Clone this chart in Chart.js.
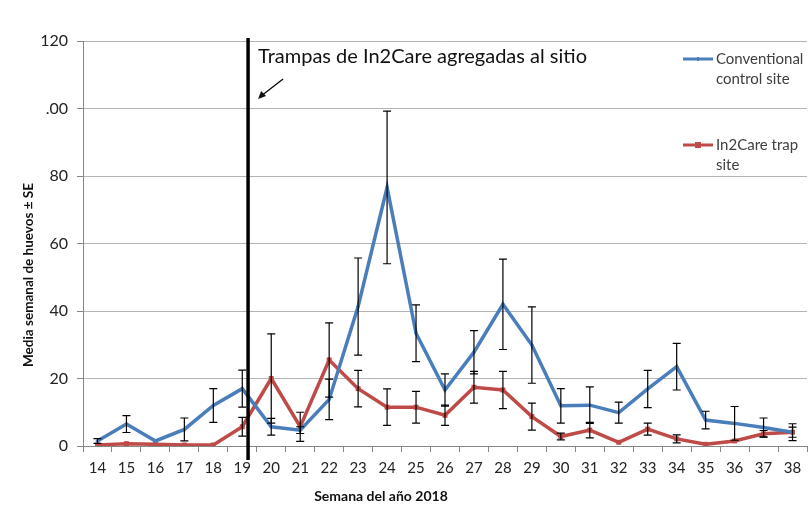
<!DOCTYPE html>
<html>
<head>
<meta charset="utf-8">
<script src="https://cdn.jsdelivr.net/npm/chart.js@4.4.1/dist/chart.umd.min.js"></script>
<style>
  body { margin: 0; background: #fff; }
  canvas { display: block; }
</style>
</head>
<body>
<canvas id="chart" width="811" height="512"></canvas>
<script>
const weeks = ['14','15','16','17','18','19','20','21','22','23','24','25','26','27','28','29','30','31','32','33','34','35','36','37','38'];

const conventional   = [1.5, 6.5, 1.5, 4.9, 12, 17, 5.7, 4.7, 13.8, 41.3, 76.6, 33.4, 16.6, 27.8, 42, 29.9, 11.9, 12.1, 9.9, 16.9, 23.5, 7.7, 6.7, 5.5, 4.1];
const conventionalSE = [0.7, 2.5, 0, 3.4, 5, 5.5, 2.5, 1, 6, 14.4, 22.6, 8.4, 4.8, 6.4, 13.4, 11.3, 5.1, 5.4, 3.1, 5.5, 6.9, 2.6, 5, 2.8, 2.5];

const in2care   = [0.3, 0.7, 0.5, 0.3, 0.3, 5.7, 20, 5.7, 25.5, 17, 11.5, 11.5, 9.1, 17.4, 16.6, 8.7, 2.8, 4.7, 1.1, 5, 2.1, 0.5, 1.5, 3.6, 4.1];
const in2careSE = [0, 0, 0, 0, 0, 2.8, 13.2, 4.3, 11, 5.4, 5.4, 4.7, 3, 4.7, 5.5, 4, 1, 2.3, 0, 1.8, 1.2, 0, 0, 1, 1.5];

const yTicks = [0, 20, 40, 60, 80, 100, 120];
const yTickText = ['0', '20', '40', '60', '80', '.00', '120'];

const trapIndex = 5.2; // between week 19 and 20
const trapNote = 'Trampas de In2Care agregadas al sitio';
const legendText = [['Conventional', 'control site'], ['In2Care trap', 'site']];

const FONT = 'Lato, "Open Sans", sans-serif';

const overlay = {
  id: 'overlay',
  afterDatasetsDraw(chart) {
    const ctx = chart.ctx;
    const x = chart.scales.x, y = chart.scales.y;
    ctx.save();

    // error bars
    ctx.strokeStyle = '#000';
    ctx.lineWidth = 1.2;
    chart.data.datasets.forEach(ds => {
      ds.data.forEach((v, j) => {
        const se = ds.se[j];
        if (!se) return;
        const px = x.getPixelForValue(j);
        const t = y.getPixelForValue(v + se);
        const b = y.getPixelForValue(Math.max(0, v - se));
        ctx.beginPath();
        ctx.moveTo(px, t); ctx.lineTo(px, b);
        ctx.moveTo(px - 4, t); ctx.lineTo(px + 4, t);
        ctx.moveTo(px - 4, b); ctx.lineTo(px + 4, b);
        ctx.stroke();
      });
    });

    // vertical line where traps were added
    const i0 = Math.floor(trapIndex);
    const p0 = x.getPixelForValue(i0), p1 = x.getPixelForValue(i0 + 1);
    const vx = p0 + (trapIndex - i0) * (p1 - p0);
    ctx.lineWidth = 3.5;
    ctx.beginPath();
    ctx.moveTo(vx, chart.chartArea.top - 3);
    ctx.lineTo(vx, chart.chartArea.bottom + 14);
    ctx.stroke();

    // note and arrow
    ctx.fillStyle = '#111';
    ctx.font = '20px ' + FONT;
    ctx.textAlign = 'left';
    ctx.textBaseline = 'alphabetic';
    ctx.fillText(trapNote, vx + 10, 63);
    ctx.lineWidth = 1.2;
    ctx.beginPath();
    ctx.moveTo(vx + 35, 79);
    ctx.lineTo(vx + 13, 96);
    ctx.stroke();
    ctx.beginPath();
    ctx.moveTo(vx + 10, 99);
    ctx.lineTo(vx + 13, 91);
    ctx.lineTo(vx + 18, 96);
    ctx.closePath();
    ctx.fill();

    // legend
    const rows = [59, 145];
    ctx.font = '15px ' + FONT;
    ctx.textBaseline = 'middle';
    chart.data.datasets.forEach((ds, i) => {
      const ly = rows[i];
      ctx.strokeStyle = ds.borderColor;
      ctx.lineWidth = 3;
      ctx.beginPath();
      ctx.moveTo(683, ly); ctx.lineTo(713, ly);
      ctx.stroke();
      ctx.fillStyle = ds.borderColor;
      if (ds.pointStyle === 'rect') ctx.fillRect(695, ly - 3, 6, 6);
      else ctx.fillRect(697, ly - 2, 2, 4);
      ctx.fillStyle = '#404040';
      legendText[i].forEach((line, k) => ctx.fillText(line, 716, ly + k * 20));
    });

    // axis titles
    ctx.fillStyle = '#111';
    ctx.font = 'bold 14px ' + FONT;
    ctx.textAlign = 'center';
    ctx.fillText('Semana del año 2018', 381, 496);
    ctx.translate(29, 275);
    ctx.rotate(-Math.PI / 2);
    ctx.font = 'bold 13.5px ' + FONT;
    ctx.fillText('Media semanal de huevos ± SE', 0, 0);
    ctx.restore();
  }
};

new Chart(document.getElementById('chart'), {
  type: 'line',
  data: {
    labels: weeks,
    datasets: [
      {
        label: 'Conventional control site',
        data: conventional,
        se: conventionalSE,
        borderColor: '#4A7EBB',
        backgroundColor: '#4A7EBB',
        borderWidth: 3.5,
        pointStyle: 'rectRot',
        pointRadius: 2,
        pointBorderWidth: 0,
        tension: 0,
      },
      {
        label: 'In2Care trap site',
        data: in2care,
        se: in2careSE,
        borderColor: '#BE4B48',
        backgroundColor: '#BE4B48',
        borderWidth: 3.5,
        pointStyle: 'rect',
        pointRadius: 3.5,
        pointBorderWidth: 0,
        tension: 0,
      },
    ],
  },
  options: {
    responsive: false,
    animation: false,
    layout: { padding: { top: 41, right: 4, left: 0, bottom: 0 } },
    plugins: { legend: { display: false }, tooltip: { enabled: false } },
    scales: {
      x: {
        offset: true,
        grid: { offset: true, drawOnChartArea: false, color: '#868686', tickLength: 6 },
        border: { color: '#868686' },
        ticks: { color: '#222', font: { family: FONT, size: 15 }, padding: 7, maxRotation: 0, autoSkip: false },
        afterFit(s) { s.height = 66; },
      },
      y: {
        min: 0,
        max: 120,
        afterBuildTicks(s) { s.ticks = yTicks.map(v => ({ value: v })); },
        grid: { color: '#B4B4B4', tickLength: 6, tickColor: '#868686' },
        border: { color: '#868686' },
        ticks: {
          color: '#222',
          font: { family: FONT, size: 16 },
          padding: 9,
          callback: v => yTickText[yTicks.indexOf(v)],
        },
        afterFit(s) { s.width = 83; },
      },
    },
  },
  plugins: [overlay],
});
</script>
</body>
</html>
